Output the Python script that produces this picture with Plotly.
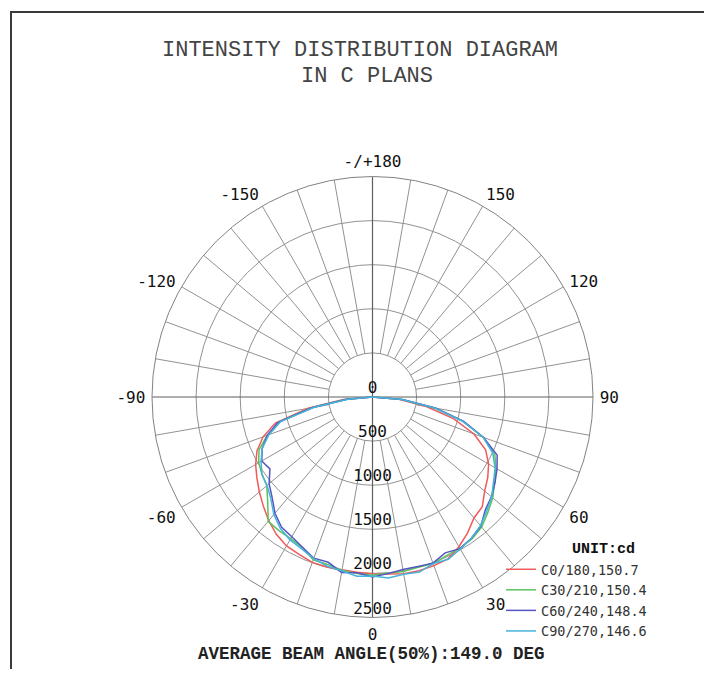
import plotly.graph_objects as go

# ---------------- data ----------------
GAMMA = [-90, -85, -80, -75, -70, -65, -60, -55, -50, -45, -40, -35, -30, -25, -20, -15, -10, -5,
         0, 5, 10, 15, 20, 25, 30, 35, 40, 45, 50, 55, 60, 65, 70, 75, 80, 85, 90]

C0_180 = [0, 330, 740, 1140, 1320, 1445, 1530, 1600, 1675, 1750, 1830, 1900, 1950, 1968, 1995, 1995, 1990, 1995,
          2005, 2015, 2035, 2040, 2035, 2025, 1960, 1880, 1790, 1760, 1660, 1595, 1520, 1415, 1225, 950, 620, 300, 0]
C30_210 = [0, 300, 700, 1090, 1270, 1420, 1490, 1530, 1565, 1680, 1840, 1850, 1855, 1880, 1965, 1965, 1995, 2010,
           2020, 2005, 2010, 2000, 2010, 1985, 1980, 1965, 1925, 1850, 1780, 1690, 1615, 1530, 1340, 1060, 720, 340, 0]
C60_240 = [0, 290, 690, 1110, 1270, 1380, 1450, 1420, 1530, 1610, 1720, 1800, 1830, 1880, 1945, 1940, 2020, 2000,
           2040, 2010, 1985, 1990, 2005, 1950, 1985, 1955, 1910, 1810, 1760, 1695, 1630, 1560, 1340, 1070, 730, 340, 0]
C90_270 = [0, 280, 670, 1080, 1250, 1380, 1460, 1530, 1560, 1630, 1740, 1820, 1870, 1900, 1950, 1985, 2000, 2040,
           2030, 2060, 2040, 2055, 2010, 2030, 1990, 1955, 1905, 1830, 1765, 1675, 1605, 1505, 1335, 1055, 715, 335, 0]

SERIES = [C0_180, C30_210, C60_240, C90_270]
SERIES_NAMES = ["C0/180,150.7", "C30/210,150.4", "C60/240,148.4", "C90/270,146.6"]
SERIES_COLORS = ["#f05a5a", "#5cc25c", "#5555c4", "#45b3dc"]

RADIAL_TICKS = [0, 500, 1000, 1500, 2000, 2500]
RADIAL_LABELS = ["0", "500", "1000", "1500", "2000", "2500"]
ANGLE_TICKS = [0, 30, 60, 90, 120, 150, 180, 210, 240, 270, 300, 330]
ANGLE_LABELS = ["0", "30", "60", "90", "120", "150", "-/+180", "-150", "-120", "-90", "-60", "-30"]
GRID_STEP = 10
MAIN_AXES = [0, 90, 180, 270]

TITLE_1 = "INTENSITY DISTRIBUTION DIAGRAM"
TITLE_2 = "IN C PLANS"
FOOTER = "AVERAGE BEAM ANGLE(50%):149.0 DEG"
UNIT = "UNIT:cd"

# ---------------- geometry helpers (page pixels -> paper) ----------------
OFF = 8                      # default page margin around the plot div
FW, FH = 712 - 2 * OFF, 677 - 2 * OFF


def px(x):
    return (x - OFF) / FW


def py(y):
    return 1 - (y - OFF) / FH


fig = go.Figure()

# grid spokes: short spokes start at first ring, main axes go through centre
sr, st = [], []
for a in range(0, 360, GRID_STEP):
    if a in MAIN_AXES:
        continue
    sr += [RADIAL_TICKS[1], RADIAL_TICKS[-1], None]
    st += [a, a, None]
fig.add_trace(go.Scatterpolar(r=sr, theta=st, mode="lines",
                              line=dict(color="#929292", width=1),
                              hoverinfo="skip", showlegend=False))
mr, mt = [], []
for a in MAIN_AXES:
    mr += [RADIAL_TICKS[0], RADIAL_TICKS[-1], None]
    mt += [a, a, None]
fig.add_trace(go.Scatterpolar(r=mr, theta=mt, mode="lines",
                              line=dict(color="#5e5e5e", width=1.2),
                              hoverinfo="skip", showlegend=False))

for vals, name, col in zip(SERIES, SERIES_NAMES, SERIES_COLORS):
    fig.add_trace(go.Scatterpolar(r=vals, theta=GAMMA, mode="lines", name=name,
                                  line=dict(color=col, width=1.5)))

# radial value labels along the 0 direction
fig.add_trace(go.Scatterpolar(r=RADIAL_TICKS, theta=[0] * len(RADIAL_TICKS), mode="text",
                              text=RADIAL_LABELS, textposition="top center",
                              textfont=dict(family="DejaVu Sans Mono", size=16, color="#111111"),
                              hoverinfo="skip", showlegend=False))

cx, cy, rad = 372.5, 397.0, 220.5
fig.update_layout(
    width=FW, height=FH,
    margin=dict(l=0, r=0, t=0, b=0),
    paper_bgcolor="white",
    polar=dict(
        domain=dict(x=[px(cx - rad), px(cx + rad)],
                    y=[py(cy + rad), py(cy - rad)]),
        bgcolor="white",
        radialaxis=dict(range=[0, RADIAL_TICKS[-1]], tickvals=RADIAL_TICKS[1:],
                        showticklabels=False, ticks="", showline=False,
                        gridcolor="#929292", gridwidth=1),
        angularaxis=dict(rotation=270, direction="counterclockwise",
                         tickvals=ANGLE_TICKS, ticktext=ANGLE_LABELS,
                         ticks="outside", ticklen=3, tickcolor="rgba(0,0,0,0)",
                         showgrid=False, showline=True,
                         linecolor="#828282", linewidth=1,
                         tickfont=dict(family="DejaVu Sans Mono", size=16, color="#111111")),
    ),
    showlegend=True,
    legend=dict(
        x=px(501), y=py(554), xanchor="left", yanchor="top",
        bgcolor="rgba(0,0,0,0)",
        font=dict(family="DejaVu Sans Mono", size=13.5, color="#333333"),
        tracegroupgap=0,
    ),
    shapes=[dict(type="rect", xref="paper", yref="paper",
                 x0=px(11), x1=1.05, y0=-0.05, y1=py(12),
                 line=dict(color="#3a3a3a", width=2), fillcolor="rgba(0,0,0,0)")],
    annotations=[
        dict(text=TITLE_1, x=px(359.5), y=py(51), xref="paper", yref="paper",
             showarrow=False, xanchor="center", yanchor="middle",
             font=dict(family="Liberation Mono", size=22, color="#444444")),
        dict(text=TITLE_2, x=px(367), y=py(76), xref="paper", yref="paper",
             showarrow=False, xanchor="center", yanchor="middle",
             font=dict(family="Liberation Mono", size=22, color="#444444")),
        dict(text=UNIT, x=px(603), y=py(549), xref="paper", yref="paper",
             showarrow=False, xanchor="center", yanchor="middle",
             font=dict(family="Liberation Mono", size=15, color="#111111", weight="bold")),
        dict(text=FOOTER, x=px(371.5), y=py(654), xref="paper", yref="paper",
             showarrow=False, xanchor="center", yanchor="middle",
             font=dict(family="Liberation Mono", size=17.5, color="#222222", weight="bold")),
    ],
)

fig.write_html("out.html")
